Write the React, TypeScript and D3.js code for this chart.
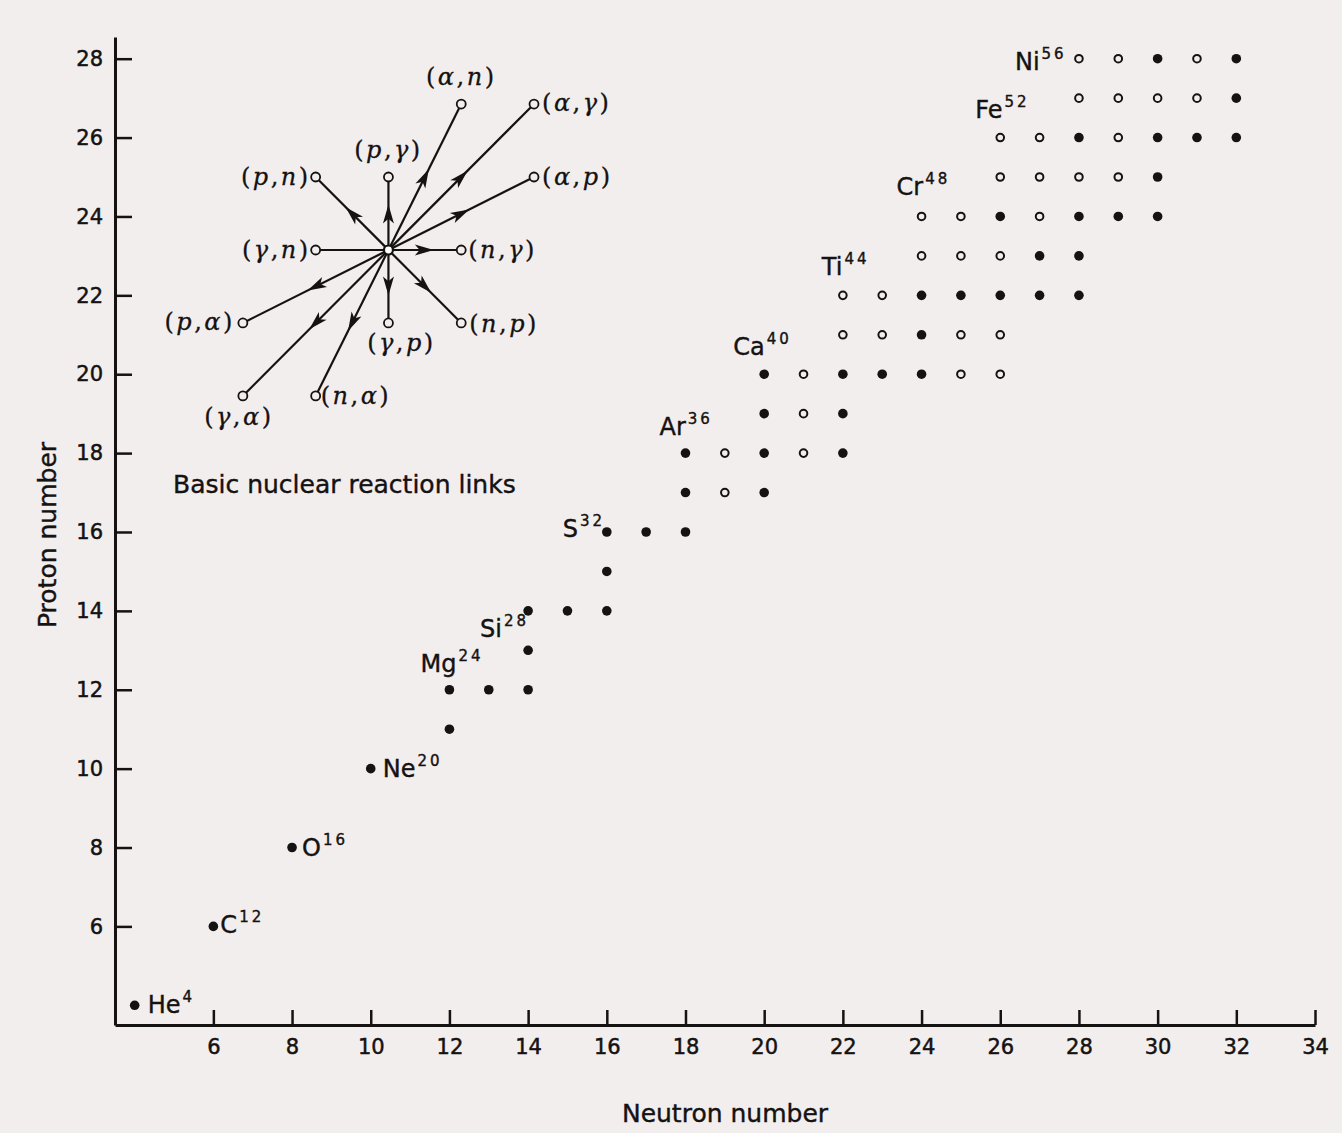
import { useEffect, useRef } from "react";
import { axisBottom, axisLeft, scaleLinear, select } from "d3";

const width = 1342;
const height = 1133;

// axis ticks
const xTicks = [6, 8, 10, 12, 14, 16, 18, 20, 22, 24, 26, 28, 30, 32, 34];
const yTicks = [6, 8, 10, 12, 14, 16, 18, 20, 22, 24, 26, 28];

// [neutron number, proton number]
const filledNuclei = [
  [4, 4], [6, 6], [8, 8], [10, 10],
  [12, 11],
  [12, 12], [13, 12], [14, 12],
  [14, 13],
  [14, 14], [15, 14], [16, 14],
  [16, 15],
  [16, 16], [17, 16], [18, 16],
  [18, 17], [20, 17],
  [18, 18], [20, 18], [22, 18],
  [20, 19], [22, 19],
  [20, 20], [22, 20], [23, 20], [24, 20],
  [24, 21],
  [24, 22], [25, 22], [26, 22], [27, 22], [28, 22],
  [27, 23], [28, 23],
  [26, 24], [28, 24], [29, 24], [30, 24],
  [30, 25],
  [28, 26], [30, 26], [31, 26], [32, 26],
  [32, 27],
  [30, 28], [32, 28],
];

const openNuclei = [
  [19, 17],
  [19, 18], [21, 18],
  [21, 19],
  [21, 20], [25, 20], [26, 20],
  [22, 21], [23, 21], [25, 21], [26, 21],
  [22, 22], [23, 22],
  [24, 23], [25, 23], [26, 23],
  [24, 24], [25, 24], [27, 24],
  [26, 25], [27, 25], [28, 25], [29, 25],
  [26, 26], [27, 26], [29, 26],
  [28, 27], [29, 27], [30, 27], [31, 27],
  [28, 28], [29, 28], [31, 28],
];

// alpha-particle nuclei that carry a name
const namedNuclei = [
  { symbol: "He", mass: 4, n: 4, z: 4 },
  { symbol: "C", mass: 12, n: 6, z: 6 },
  { symbol: "O", mass: 16, n: 8, z: 8 },
  { symbol: "Ne", mass: 20, n: 10, z: 10 },
  { symbol: "Mg", mass: 24, n: 12, z: 12 },
  { symbol: "Si", mass: 28, n: 14, z: 14 },
  { symbol: "S", mass: 32, n: 16, z: 16 },
  { symbol: "Ar", mass: 36, n: 18, z: 18 },
  { symbol: "Ca", mass: 40, n: 20, z: 20 },
  { symbol: "Ti", mass: 44, n: 22, z: 22 },
  { symbol: "Cr", mass: 48, n: 24, z: 24 },
  { symbol: "Fe", mass: 52, n: 26, z: 26 },
  { symbol: "Ni", mass: 56, n: 28, z: 28 },
];

// reaction links: change of neutron / proton number
const reactions = [
  { into: "p", out: "n", dn: -1, dz: 1 },
  { into: "p", out: "\u03b3", dn: 0, dz: 1 },
  { into: "\u03b1", out: "n", dn: 1, dz: 2 },
  { into: "\u03b1", out: "\u03b3", dn: 2, dz: 2 },
  { into: "\u03b1", out: "p", dn: 2, dz: 1 },
  { into: "\u03b3", out: "n", dn: -1, dz: 0 },
  { into: "n", out: "\u03b3", dn: 1, dz: 0 },
  { into: "p", out: "\u03b1", dn: -2, dz: -1 },
  { into: "\u03b3", out: "\u03b1", dn: -2, dz: -2 },
  { into: "n", out: "\u03b1", dn: -1, dz: -2 },
  { into: "\u03b3", out: "p", dn: 0, dz: -1 },
  { into: "n", out: "p", dn: 1, dz: -1 },
];
const plainLinks = ["\u03b3,n"];

// inset placement (in chart units)
const insetCenter = { n: 10.45, z: 23.15 };
const insetStep = 1.85;

// label placement, pixels relative to the dot
const nucleusLabelPos = {
  He: [13, 8], C: [7, 7], O: [10, 8], Ne: [12, 8], Mg: [-29, -18],
  Si: [-48, 26], S: [-44, 5], Ar: [-26, -18], Ca: [-31, -19],
  Ti: [-21, -20], Cr: [-25, -21], Fe: [-25, -20], Ni: [-64, 11],
};

const reactionLabelPos = {
  "p,n": ["end", -5, 8],
  "p,\u03b3": ["middle", 0, -19],
  "\u03b1,n": ["middle", 0, -19],
  "\u03b1,\u03b3": ["start", 8, 7],
  "\u03b1,p": ["start", 8, 8],
  "\u03b3,n": ["end", -5, 8],
  "n,\u03b3": ["start", 7, 8],
  "p,\u03b1": ["end", -8, 7],
  "\u03b3,\u03b1": ["middle", -4, 29],
  "n,\u03b1": ["start", 5, 8],
  "\u03b3,p": ["middle", 13, 28],
  "n,p": ["start", 8, 9],
};

const bg = "#f3eeee";
const ink = "#151212";
const sans = "'DejaVu Sans', 'Liberation Sans', sans-serif";
const serif = "'DejaVu Serif', 'Liberation Serif', serif";

export default function App() {
  const ref = useRef(null);

  useEffect(() => {
    const svg = select(ref.current);
    svg.selectAll("*").remove();

    const x = scaleLinear().domain([3.5, 34]).range([115, 1315]);
    const y = scaleLinear().domain([3.5, 28.55]).range([1025, 37]);

    svg.append("rect").attr("width", width).attr("height", height).attr("fill", bg);

    // axes
    const gy = svg.append("g")
      .attr("transform", `translate(${x(3.5)},0)`)
      .call(axisLeft(y).tickValues(yTicks).tickSize(-17).tickSizeOuter(0).tickPadding(12));
    const gx = svg.append("g")
      .attr("transform", `translate(0,${y(3.5)})`)
      .call(axisBottom(x).tickValues(xTicks).tickSize(-15).tickSizeOuter(0).tickPadding(14));
    [gy, gx].forEach(g => {
      g.attr("font-family", sans).attr("font-size", 21);
      g.select(".domain").attr("stroke", ink).attr("stroke-width", 3);
      g.selectAll(".tick line").attr("stroke", ink).attr("stroke-width", 2.5);
      g.selectAll(".tick text").attr("fill", ink).attr("stroke", ink).attr("stroke-width", 0.5);
    });

    svg.append("text")
      .attr("transform", `translate(56,535) rotate(-90)`)
      .attr("text-anchor", "middle")
      .attr("font-family", sans).attr("font-size", 25).attr("fill", ink)
      .attr("stroke", ink).attr("stroke-width", 0.4)
      .text("Proton number");
    svg.append("text")
      .attr("x", 725).attr("y", 1122)
      .attr("text-anchor", "middle")
      .attr("font-family", sans).attr("font-size", 25).attr("fill", ink)
      .attr("stroke", ink).attr("stroke-width", 0.4)
      .text("Neutron number");

    // nuclei
    svg.append("g").selectAll("circle")
      .data(filledNuclei)
      .join("circle")
      .attr("cx", d => x(d[0])).attr("cy", d => y(d[1]))
      .attr("r", 4.8).attr("fill", ink);
    svg.append("g").selectAll("circle")
      .data(openNuclei)
      .join("circle")
      .attr("cx", d => x(d[0])).attr("cy", d => y(d[1]))
      .attr("r", 3.8).attr("fill", bg).attr("stroke", ink).attr("stroke-width", 2);

    const names = svg.append("g")
      .attr("font-family", sans).attr("fill", ink)
      .attr("stroke", ink).attr("stroke-width", 0.4)
      .selectAll("text")
      .data(namedNuclei)
      .join("text")
      .attr("x", d => x(d.n) + nucleusLabelPos[d.symbol][0])
      .attr("y", d => y(d.z) + nucleusLabelPos[d.symbol][1])
      .attr("font-size", 24);
    names.append("tspan").text(d => d.symbol);
    names.append("tspan")
      .attr("dx", 2).attr("dy", -11)
      .attr("font-size", 15).attr("letter-spacing", 3)
      .text(d => d.mass);

    // basic reaction links inset
    const cx = x(insetCenter.n);
    const cy = y(insetCenter.z);
    const inset = svg.append("g");
    const ends = reactions.map(r => ({
      ...r,
      key: `${r.into},${r.out}`,
      ex: x(insetCenter.n + r.dn * insetStep),
      ey: y(insetCenter.z + r.dz * insetStep),
    }));

    ends.forEach(r => {
      const dx = r.ex - cx, dy = r.ey - cy;
      const len = Math.hypot(dx, dy);
      const ux = dx / len, uy = dy / len;
      inset.append("line")
        .attr("x1", cx + ux * 4).attr("y1", cy + uy * 4)
        .attr("x2", r.ex - ux * 4.5).attr("y2", r.ey - uy * 4.5)
        .attr("stroke", ink).attr("stroke-width", 2.2);
      if (!plainLinks.includes(r.key)) {
        const t = len * 0.5 + 9;
        const tx = cx + ux * t, ty = cy + uy * t;
        const L = 19, W = 5.5;
        const bx = tx - ux * L, by = ty - uy * L;
        const nx = tx - ux * L * 0.75, ny = ty - uy * L * 0.75;
        inset.append("path")
          .attr("d", `M${tx},${ty}L${bx - uy * W},${by + ux * W}L${nx},${ny}L${bx + uy * W},${by - ux * W}Z`)
          .attr("fill", ink);
      }
      inset.append("circle")
        .attr("cx", r.ex).attr("cy", r.ey).attr("r", 4.5)
        .attr("fill", bg).attr("stroke", ink).attr("stroke-width", 1.8);

      const [anchor, ox, oy] = reactionLabelPos[r.key];
      const lab = inset.append("text")
        .attr("x", r.ex + ox).attr("y", r.ey + oy)
        .attr("text-anchor", anchor)
        .attr("font-family", serif).attr("font-size", 24).attr("fill", ink)
        .attr("stroke", ink).attr("stroke-width", 0.3)
        .attr("letter-spacing", 2.5);
      lab.append("tspan").text("(");
      lab.append("tspan").attr("font-style", "italic").text(r.into);
      lab.append("tspan").text(",");
      lab.append("tspan").attr("font-style", "italic").text(r.out);
      lab.append("tspan").text(")");
    });

    inset.append("circle")
      .attr("cx", cx).attr("cy", cy).attr("r", 4.5)
      .attr("fill", "#fff").attr("stroke", ink).attr("stroke-width", 2.2);

    svg.append("text")
      .attr("x", 173).attr("y", 493)
      .attr("font-family", sans).attr("font-size", 25).attr("fill", ink)
      .attr("stroke", ink).attr("stroke-width", 0.4)
      .text("Basic nuclear reaction links");
  }, []);

  return (
    <svg
      ref={ref}
      width={width}
      height={height}
      style={{ position: "absolute", left: 0, top: 0, display: "block" }}
    />
  );
}
